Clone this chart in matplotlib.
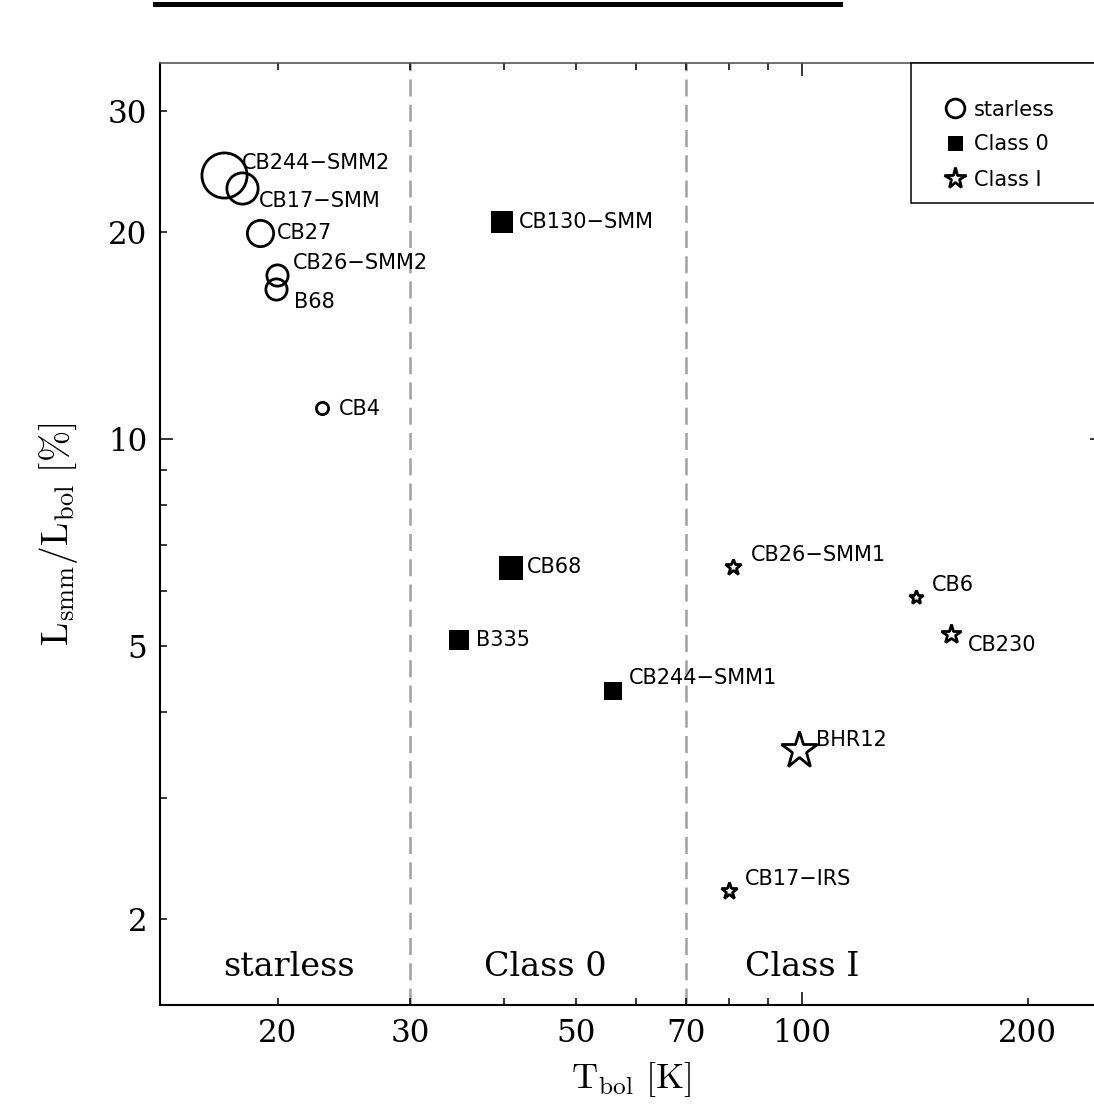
import matplotlib
matplotlib.use("Agg")
import matplotlib.pyplot as plt
from matplotlib.lines import Line2D
from matplotlib.patches import Rectangle
from matplotlib.ticker import FixedLocator, FuncFormatter

plt.rcParams['mathtext.fontset'] = 'cm'

# ---- data -------------------------------------------------------------
starless_names = ['CB244\u2212SMM2', 'CB17\u2212SMM', 'CB27', 'CB26\u2212SMM2', 'B68', 'CB4']
starless_tbol = [16.95, 17.91, 18.93, 19.94, 19.88, 22.89]
starless_ratio = [24.2, 23.2, 19.9, 17.3, 16.5, 11.1]

class0_names = ['CB130\u2212SMM', 'CB68', 'B335', 'CB244\u2212SMM1']
class0_tbol = [39.8, 40.9, 34.9, 56.0]
class0_ratio = [20.7, 6.49, 5.09, 4.29]

class1_names = ['CB26\u2212SMM1', 'CB6', 'CB230', 'BHR12', 'CB17\u2212IRS']
class1_tbol = [80.9, 141.8, 157.9, 99.0, 79.9]
class1_ratio = [6.51, 5.89, 5.20, 3.52, 2.20]

class_bounds = [30, 70]
stage_labels = ['starless', 'Class 0', 'Class I']

x_labelled = [20, 30, 50, 70, 100, 200]
y_labelled = [2, 5, 10, 20, 30]

# ---- styling ----------------------------------------------------------
starless_ms = [32.5, 22.5, 18.9, 15.3, 15.3, 8.8]
class0_ms = [15.8, 17.3, 13.7, 13.0]
class1_ms = [11.7, 10.2, 14.8, 27.6, 12.5]

# name-tag offsets in pixels (right, down)
starless_off = [(18, -12), (17, 13), (17, 0), (16, -12), (18, 13), (17, 1)]
class0_off = [(17, 0), (16, -1), (17, 0), (16, -13)]
class1_off = [(18, -12), (16, -12), (17, 11), (17, -10), (16, -12)]

PX = 0.72  # points per pixel at 100 dpi
W, H = 1094, 1105
AX_L, AX_R, AX_T, AX_B = 160, 1103, 63, 1005
label_font = dict(family='DejaVu Sans', weight='normal', size=15)

fig = plt.figure(figsize=(W / 100, H / 100), dpi=100)
ax = fig.add_axes([AX_L / W, (H - AX_B) / H, (AX_R - AX_L) / W, (AX_B - AX_T) / H])
ax.set_xscale('log')
ax.set_yscale('log')
ax.set_xlim(13.93, 251.8)
ax.set_ylim(1.499, 35.24)


def ax_x(px):
    return (px - AX_L) / (AX_R - AX_L)


def ax_y(py):
    return (AX_B - py) / (AX_B - AX_T)


for b in class_bounds:
    ax.axvline(b, color='#a0a0a0', lw=1.8, dashes=(6.8, 3.3), zorder=1)


def draw_group(xs, ys, names, sizes, offs, **style):
    for x, y, n, ms, (dx, dy) in zip(xs, ys, names, sizes, offs):
        ax.plot([x], [y], ms=ms, ls='none', zorder=3, **style)
        ax.annotate(n, (x, y), xytext=(dx * PX, -dy * PX),
                    textcoords='offset points', ha='left', va='center',
                    zorder=4, **label_font)


circle_style = dict(marker='o', mfc='none', mec='black', mew=2.0)
square_style = dict(marker='s', mfc='black', mec='black', mew=0)
star_style = dict(marker='*', mfc='none', mec='black', mew=2.0)

draw_group(starless_tbol, starless_ratio, starless_names, starless_ms,
           starless_off, **circle_style)
draw_group(class0_tbol, class0_ratio, class0_names, class0_ms,
           class0_off, **square_style)
draw_group(class1_tbol, class1_ratio, class1_names, class1_ms,
           class1_off, **star_style)

# stage names along the bottom
for xpos, txt in zip([20.7, 45.5, 100.0], stage_labels):
    ax.text(xpos, 1.70, txt, ha='center', va='center',
            fontfamily='DejaVu Serif', fontsize=24)

# ticks
ax.xaxis.set_major_locator(FixedLocator([100]))
ax.xaxis.set_minor_locator(FixedLocator([20, 30, 40, 50, 60, 70, 80, 90, 200]))
ax.yaxis.set_major_locator(FixedLocator([10]))
ax.yaxis.set_minor_locator(FixedLocator([2, 3, 4, 5, 6, 7, 8, 9, 20, 30]))
xfmt = FuncFormatter(lambda v, p: f'{v:g}' if round(v) in x_labelled else '')
yfmt = FuncFormatter(lambda v, p: f'{v:g}' if round(v) in y_labelled else '')
ax.xaxis.set_major_formatter(xfmt)
ax.xaxis.set_minor_formatter(xfmt)
ax.yaxis.set_major_formatter(yfmt)
ax.yaxis.set_minor_formatter(yfmt)
ax.tick_params(which='both', direction='in', top=True, right=True,
               width=1.1, labelsize=22.3, labelfontfamily='DejaVu Serif', pad=9)
ax.tick_params(which='major', length=9.4)
ax.tick_params(which='minor', length=5)

for side in ['left', 'bottom', 'right']:
    ax.spines[side].set_linewidth(1.5)
ax.spines['top'].set_color('#555555')
ax.spines['top'].set_linewidth(1.2)

ax.set_xlabel(r'$\mathrm{T_{bol}}\ [\mathrm{K}]$', fontsize=26, labelpad=8)
ax.set_ylabel(r'$\mathrm{L_{smm}/L_{bol}}\ [\%]$', fontsize=27, labelpad=20)

# legend box and entries
ax.add_patch(Rectangle((ax_x(911), ax_y(203)), 0.3, ax_y(63) - ax_y(203),
                       transform=ax.transAxes, facecolor='white',
                       edgecolor='black', lw=1.1, zorder=5, clip_on=False))
handles = [
    Line2D([], [], ls='none', ms=13.5, **circle_style),
    Line2D([], [], ls='none', ms=10.8, **square_style),
    Line2D([], [], ls='none', ms=15.9, **star_style),
]
leg = ax.legend(handles, stage_labels, loc='upper left',
                bbox_to_anchor=(ax_x(944.2), ax_y(99.5)),
                frameon=False, borderpad=0, borderaxespad=0,
                handlelength=1.0, handletextpad=0.42, labelspacing=0.72,
                prop=label_font)
leg.set_zorder(6)

# rule across the top of the page
fig.add_artist(Line2D([155 / W, 840 / W], [1 - 4 / H] * 2, color='black', lw=3.6))

fig.savefig('out.png', dpi=100)
